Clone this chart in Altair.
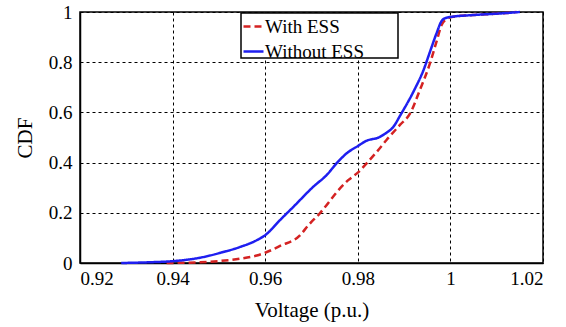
import altair as alt
import pandas as pd

# Without ESS (blue, solid)
v_without = [0.9289, 0.9351, 0.9398, 0.9459, 0.9502, 0.9546, 0.9582, 0.9600, 0.9632,
             0.9661, 0.9704, 0.9733, 0.9756, 0.9776, 0.9800, 0.9819, 0.9846, 0.9862,
             0.9877, 0.9891, 0.9920, 0.9942, 0.9956, 0.9970, 0.9981, 0.9988, 1.0003,
             1.0042, 1.0114, 1.0150]
cdf_without = [0.0, 0.003, 0.007, 0.021, 0.040, 0.064, 0.091, 0.111, 0.171,
               0.224, 0.304, 0.351, 0.401, 0.437, 0.466, 0.487, 0.501, 0.519,
               0.543, 0.586, 0.682, 0.769, 0.842, 0.915, 0.964, 0.975, 0.981,
               0.987, 0.995, 1.0]

# With ESS (red, dashed)
v_with = [0.9387, 0.9459, 0.9502, 0.9546, 0.9582, 0.9600, 0.9632, 0.9675, 0.9693,
          0.9718, 0.9762, 0.9780, 0.9800, 0.9819, 0.9841, 0.9862, 0.9891, 0.9913,
          0.9934, 0.9956, 0.9970, 0.9981, 0.9992, 1.0006, 1.0042, 1.0114, 1.0143]
cdf_with = [0.0, 0.003, 0.008, 0.017, 0.030, 0.041, 0.068, 0.110, 0.150,
            0.198, 0.298, 0.331, 0.360, 0.397, 0.443, 0.490, 0.550, 0.596,
            0.689, 0.796, 0.882, 0.948, 0.972, 0.981, 0.987, 0.995, 1.0]

series_names = ["With ESS", "Without ESS"]
series_colors = ["#d42222", "#1f1ff0"]
x_ticks = [0.92, 0.94, 0.96, 0.98, 1.0, 1.02]
y_ticks = [0, 0.2, 0.4, 0.6, 0.8, 1.0]

rows = []
for i, (v, c) in enumerate(zip(v_with, cdf_with)):
    rows.append({"V": v, "CDF": c, "Series": series_names[0], "order": i})
for i, (v, c) in enumerate(zip(v_without, cdf_without)):
    rows.append({"V": v, "CDF": c, "Series": series_names[1], "order": i})
df = pd.DataFrame(rows)

FONT = "Liberation Serif"

x_enc = alt.X("V:Q", scale=alt.Scale(domain=[0.92, 1.02], nice=False),
              axis=alt.Axis(values=x_ticks, format=".2~f", title="Voltage (p.u.)",
                            titlePadding=11))
y_enc = alt.Y("CDF:Q", scale=alt.Scale(domain=[0, 1], nice=False),
              axis=alt.Axis(values=y_ticks, format=".1~f", title="CDF",
                            titlePadding=13))

lines = alt.Chart(df).mark_line(strokeWidth=2.5, interpolate="monotone").encode(
    x=x_enc,
    y=y_enc,
    order="order:Q",
    color=alt.Color("Series:N",
                    scale=alt.Scale(domain=series_names, range=series_colors),
                    legend=alt.Legend(orient="none", legendX=162, legendY=3,
                                      title=None, symbolType="stroke",
                                      symbolSize=400, symbolStrokeWidth=2.5,
                                      labelFont=FONT, labelFontSize=19,
                                      labelColor="black", labelOffset=0,
                                      rowPadding=3, padding=0)),
    strokeDash=alt.StrokeDash("Series:N",
                              scale=alt.Scale(domain=series_names, range=[[7, 4], [1, 0]]),
                              legend=None),
)

box = alt.Chart(pd.DataFrame({"a": [0]})).mark_rect(
    fill="white", stroke="black", strokeWidth=1.5
).encode(x=alt.value(161), x2=alt.value(318), y=alt.value(1), y2=alt.value(46))

chart = alt.layer(lines, box).properties(
    width=463, height=251,
    autosize=alt.AutoSizeParams(type="none"),
    padding={"left": 80, "top": 12, "right": 23, "bottom": 64},
).configure_view(
    stroke="black", strokeWidth=1.5
).configure_axis(
    labelFont=FONT, titleFont=FONT, labelFontSize=19, titleFontSize=21,
    labelColor="black", titleColor="black", titleFontWeight="normal",
    grid=True, gridColor="black", gridDash=[3, 3], gridWidth=1, gridOpacity=1,
    domainColor="black", domainWidth=1.5, ticks=False, labelPadding=6,
).configure_axisY(labelPadding=8)

chart.save("out.html", embed_options={"renderer": "svg", "actions": False})
